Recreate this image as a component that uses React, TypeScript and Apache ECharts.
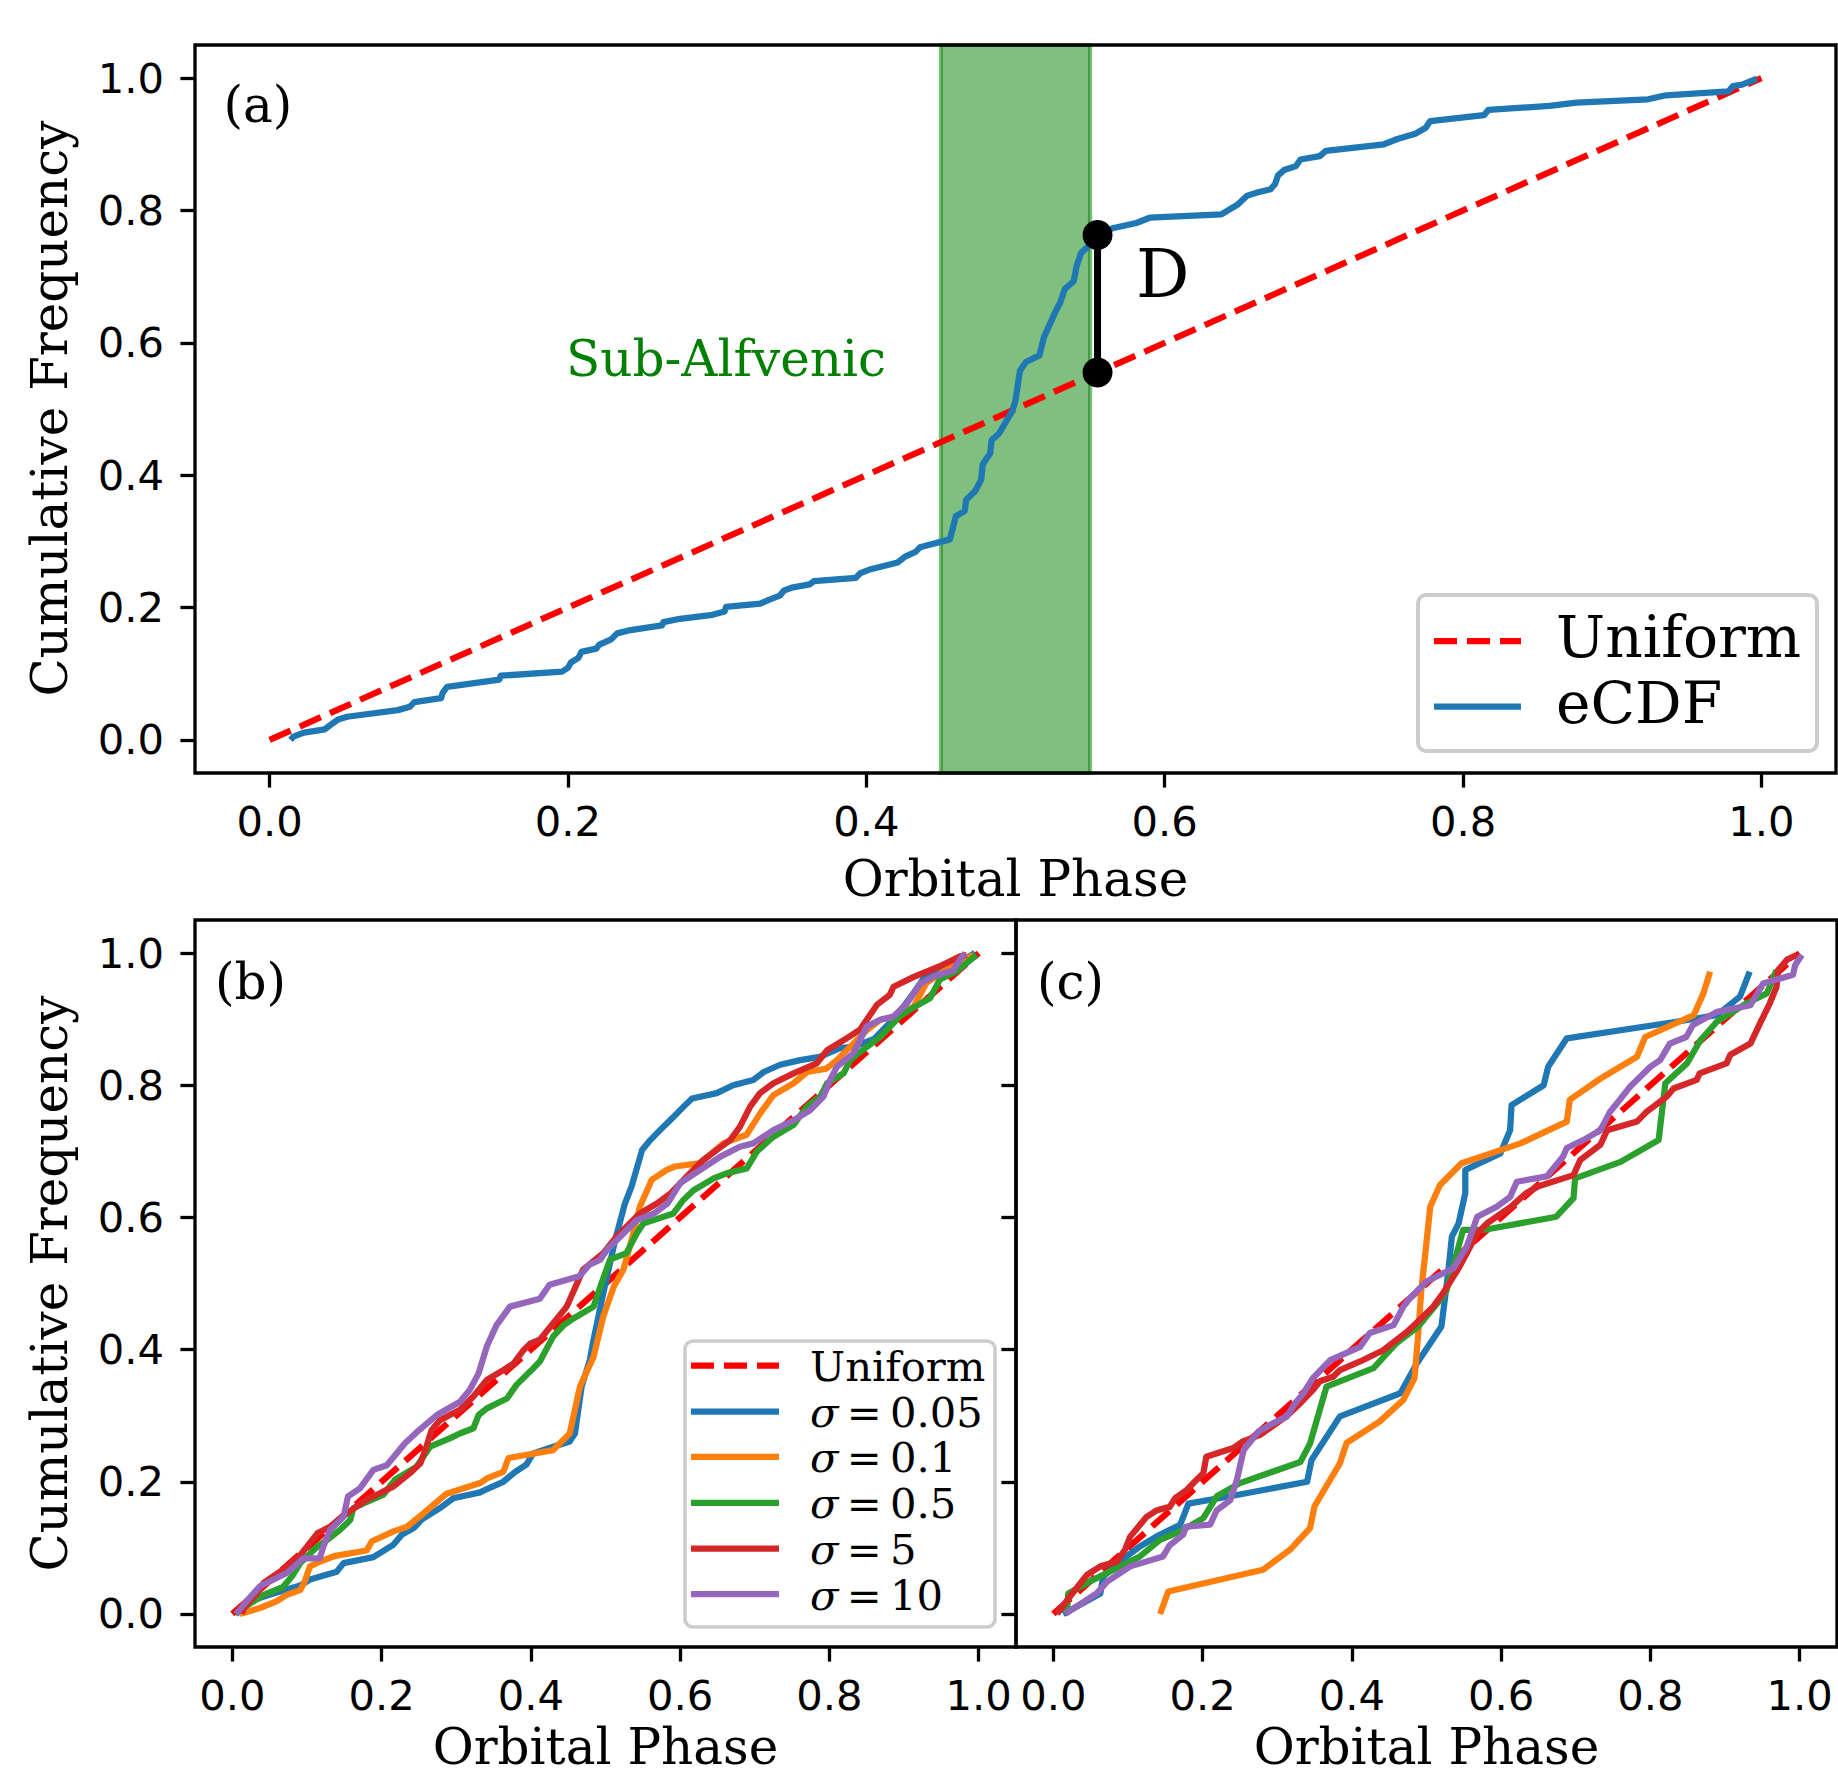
import React, { useEffect, useRef } from 'react';
import * as echarts from 'echarts';

const W = 1838;
const H = 1778;

// ---------- data ----------
const tickValues = [0, 0.2, 0.4, 0.6, 0.8, 1.0];
const axisMin = -0.05;
const axisMax = 1.05;

const uniformLine: [number, number][] = [[0, 0], [1, 1]];
const subAlfvenicBand = [0.45, 0.55];
const dX = 0.555;
const dLow = 0.555;
const dHigh = 0.763;

const ecdfA: [number, number][] = [
  [0.014, 0.0], [0.016, 0.005], [0.023, 0.011], [0.037, 0.016], [0.041, 0.023], [0.046, 0.031], [0.052, 0.035],
  [0.086, 0.045], [0.094, 0.050], [0.097, 0.057], [0.115, 0.063], [0.116, 0.071], [0.119, 0.080], [0.154, 0.091],
  [0.155, 0.097], [0.196, 0.103], [0.200, 0.109], [0.202, 0.117], [0.207, 0.124], [0.209, 0.133], [0.219, 0.138],
  [0.221, 0.144], [0.229, 0.152], [0.233, 0.161], [0.242, 0.166], [0.263, 0.173], [0.264, 0.178], [0.275, 0.183],
  [0.297, 0.189], [0.305, 0.194], [0.306, 0.201], [0.329, 0.206], [0.335, 0.212], [0.342, 0.218], [0.345, 0.226],
  [0.350, 0.230], [0.362, 0.235], [0.365, 0.240], [0.393, 0.245], [0.396, 0.252], [0.403, 0.258], [0.421, 0.268],
  [0.426, 0.277], [0.433, 0.284], [0.436, 0.291], [0.456, 0.303], [0.458, 0.320], [0.460, 0.338], [0.466, 0.346],
  [0.467, 0.363], [0.473, 0.376], [0.477, 0.393], [0.478, 0.416], [0.483, 0.433], [0.484, 0.453], [0.489, 0.463],
  [0.498, 0.498], [0.500, 0.513], [0.503, 0.558], [0.507, 0.571], [0.516, 0.581], [0.519, 0.608], [0.522, 0.623],
  [0.527, 0.648], [0.530, 0.661], [0.533, 0.681], [0.539, 0.693], [0.541, 0.716], [0.544, 0.736], [0.549, 0.746],
  [0.555, 0.763], [0.565, 0.773], [0.581, 0.781], [0.590, 0.789], [0.638, 0.794], [0.643, 0.801], [0.649, 0.809],
  [0.655, 0.822], [0.662, 0.827], [0.671, 0.832], [0.674, 0.840], [0.676, 0.853], [0.680, 0.861], [0.688, 0.867],
  [0.691, 0.877], [0.704, 0.882], [0.708, 0.890], [0.747, 0.900], [0.756, 0.908], [0.768, 0.916], [0.775, 0.925],
  [0.778, 0.935], [0.814, 0.944], [0.817, 0.952], [0.858, 0.958], [0.876, 0.963], [0.924, 0.968], [0.936, 0.974],
  [0.978, 0.980], [0.981, 0.988], [0.987, 0.990], [0.997, 0.999],
];

const sigmaLabels = ['0.05', '0.1', '0.5', '5', '10'];
const sigmaColors = ['#1f77b4', '#ff7f0e', '#2ca02c', '#d62728', '#9467bd'];

// panel (b)
const bSigma005: [number, number][] = [
  [0.005, 0.0], [0.028, 0.021], [0.055, 0.031], [0.091, 0.043], [0.104, 0.052], [0.140, 0.064], [0.149, 0.077],
  [0.189, 0.086], [0.202, 0.095], [0.216, 0.105], [0.227, 0.120], [0.243, 0.130], [0.254, 0.143], [0.278, 0.160],
  [0.296, 0.175], [0.332, 0.184], [0.341, 0.189], [0.363, 0.200], [0.379, 0.215], [0.394, 0.226], [0.403, 0.243],
  [0.430, 0.253], [0.452, 0.261], [0.459, 0.273], [0.468, 0.344], [0.479, 0.384], [0.484, 0.415], [0.497, 0.485],
  [0.513, 0.566], [0.526, 0.621], [0.535, 0.647], [0.549, 0.702], [0.560, 0.717], [0.573, 0.732], [0.591, 0.752],
  [0.605, 0.768], [0.616, 0.780], [0.649, 0.788], [0.671, 0.800], [0.698, 0.808], [0.712, 0.820], [0.734, 0.831],
  [0.761, 0.838], [0.787, 0.843], [0.814, 0.856], [0.832, 0.858], [0.860, 0.870], [0.890, 0.905], [0.910, 0.935],
  [0.930, 0.968], [0.955, 0.975], [0.980, 0.990], [0.995, 1.0],
];
const bSigma01: [number, number][] = [
  [0.010, 0.0], [0.037, 0.009], [0.059, 0.019], [0.073, 0.029], [0.091, 0.036], [0.097, 0.049], [0.104, 0.072],
  [0.117, 0.079], [0.138, 0.088], [0.180, 0.096], [0.187, 0.110], [0.216, 0.125], [0.234, 0.132], [0.256, 0.152],
  [0.287, 0.182], [0.332, 0.198], [0.341, 0.205], [0.363, 0.215], [0.370, 0.236], [0.430, 0.248], [0.452, 0.273],
  [0.457, 0.299], [0.466, 0.345], [0.484, 0.389], [0.497, 0.450], [0.511, 0.495], [0.524, 0.521], [0.535, 0.566],
  [0.546, 0.616], [0.562, 0.657], [0.582, 0.672], [0.593, 0.677], [0.627, 0.682], [0.658, 0.712], [0.689, 0.725],
  [0.707, 0.757], [0.725, 0.785], [0.752, 0.803], [0.770, 0.820], [0.796, 0.825], [0.810, 0.838], [0.832, 0.863],
  [0.850, 0.883], [0.868, 0.899], [0.890, 0.904], [0.913, 0.919], [0.930, 0.955], [0.957, 0.975], [0.984, 0.992],
  [0.993, 0.997],
];
const bSigma05: [number, number][] = [
  [0.004, 0.0], [0.024, 0.016], [0.042, 0.029], [0.068, 0.041], [0.080, 0.057], [0.091, 0.077], [0.114, 0.102],
  [0.127, 0.112], [0.144, 0.127], [0.158, 0.142], [0.162, 0.160], [0.175, 0.167], [0.202, 0.180], [0.218, 0.203],
  [0.247, 0.223], [0.265, 0.253], [0.292, 0.266], [0.305, 0.273], [0.323, 0.281], [0.330, 0.301], [0.341, 0.311],
  [0.368, 0.326], [0.381, 0.347], [0.401, 0.369], [0.412, 0.382], [0.430, 0.420], [0.444, 0.437], [0.457, 0.447],
  [0.484, 0.465], [0.493, 0.495], [0.506, 0.536], [0.528, 0.546], [0.542, 0.576], [0.551, 0.591], [0.591, 0.606],
  [0.604, 0.626], [0.618, 0.641], [0.645, 0.659], [0.663, 0.667], [0.689, 0.674], [0.703, 0.700], [0.725, 0.722],
  [0.752, 0.740], [0.770, 0.768], [0.788, 0.783], [0.797, 0.803], [0.819, 0.818], [0.828, 0.838], [0.850, 0.858],
  [0.868, 0.873], [0.894, 0.904], [0.912, 0.917], [0.935, 0.932], [0.948, 0.960], [0.970, 0.972], [0.997, 0.997],
];
const bSigma5: [number, number][] = [
  [0.013, 0.0], [0.015, 0.009], [0.033, 0.031], [0.042, 0.047], [0.068, 0.067], [0.091, 0.089], [0.114, 0.122],
  [0.131, 0.132], [0.153, 0.152], [0.180, 0.173], [0.193, 0.180], [0.216, 0.193], [0.238, 0.213], [0.252, 0.228],
  [0.260, 0.253], [0.267, 0.278], [0.278, 0.293], [0.305, 0.309], [0.323, 0.329], [0.341, 0.354], [0.363, 0.369],
  [0.377, 0.379], [0.390, 0.399], [0.399, 0.409], [0.412, 0.415], [0.430, 0.440], [0.448, 0.465], [0.452, 0.475],
  [0.470, 0.521], [0.497, 0.546], [0.515, 0.571], [0.546, 0.606], [0.569, 0.621], [0.587, 0.636], [0.609, 0.662],
  [0.631, 0.687], [0.649, 0.702], [0.667, 0.717], [0.680, 0.737], [0.694, 0.768], [0.707, 0.788], [0.725, 0.803],
  [0.752, 0.818], [0.783, 0.833], [0.797, 0.853], [0.823, 0.871], [0.841, 0.884], [0.850, 0.899], [0.864, 0.922],
  [0.881, 0.937], [0.886, 0.949], [0.913, 0.964], [0.948, 0.980], [0.975, 0.995], [0.984, 0.997],
];
const bSigma10: [number, number][] = [
  [0.005, 0.0], [0.019, 0.019], [0.037, 0.042], [0.073, 0.062], [0.095, 0.084], [0.117, 0.084], [0.122, 0.102],
  [0.131, 0.127], [0.149, 0.147], [0.155, 0.178], [0.171, 0.190], [0.189, 0.218], [0.207, 0.225], [0.231, 0.258],
  [0.251, 0.279], [0.274, 0.301], [0.305, 0.321], [0.318, 0.339], [0.330, 0.364], [0.341, 0.405], [0.354, 0.437],
  [0.372, 0.465], [0.412, 0.477], [0.425, 0.498], [0.465, 0.511], [0.478, 0.528], [0.493, 0.536], [0.502, 0.551],
  [0.520, 0.571], [0.542, 0.596], [0.565, 0.606], [0.583, 0.621], [0.600, 0.652], [0.627, 0.672], [0.654, 0.692],
  [0.680, 0.707], [0.698, 0.712], [0.725, 0.732], [0.752, 0.747], [0.774, 0.762], [0.792, 0.783], [0.801, 0.808],
  [0.810, 0.828], [0.832, 0.848], [0.841, 0.868], [0.850, 0.889], [0.868, 0.899], [0.886, 0.904], [0.904, 0.924],
  [0.922, 0.954], [0.939, 0.964], [0.966, 0.974], [0.975, 0.990], [0.982, 1.0],
];

// panel (c)
const cSigma005: [number, number][] = [
  [0.013, 0.0], [0.031, 0.011], [0.063, 0.031], [0.067, 0.057], [0.098, 0.087], [0.116, 0.102], [0.138, 0.117],
  [0.170, 0.135], [0.181, 0.167], [0.246, 0.180], [0.340, 0.200], [0.346, 0.233], [0.384, 0.299], [0.465, 0.334],
  [0.487, 0.379], [0.520, 0.435], [0.529, 0.516], [0.534, 0.571], [0.543, 0.591], [0.552, 0.637], [0.552, 0.672],
  [0.599, 0.697], [0.612, 0.732], [0.614, 0.770], [0.657, 0.800], [0.663, 0.828], [0.688, 0.871], [0.835, 0.896],
  [0.889, 0.906], [0.920, 0.934], [0.927, 0.954], [0.933, 0.972],
];
const cSigma01: [number, number][] = [
  [0.143, 0.0], [0.154, 0.034], [0.281, 0.067], [0.317, 0.097], [0.344, 0.130], [0.350, 0.163], [0.384, 0.228],
  [0.393, 0.259], [0.437, 0.291], [0.469, 0.324], [0.484, 0.357], [0.489, 0.425], [0.493, 0.490], [0.498, 0.541],
  [0.505, 0.616], [0.518, 0.649], [0.547, 0.682], [0.626, 0.712], [0.688, 0.745], [0.692, 0.778], [0.733, 0.810],
  [0.782, 0.843], [0.793, 0.873], [0.858, 0.906], [0.871, 0.939], [0.880, 0.972],
];
const cSigma05: [number, number][] = [
  [0.018, 0.0], [0.020, 0.031], [0.054, 0.052], [0.116, 0.087], [0.143, 0.112], [0.170, 0.125], [0.201, 0.145],
  [0.219, 0.178], [0.250, 0.198], [0.331, 0.230], [0.344, 0.258], [0.366, 0.344], [0.429, 0.372], [0.460, 0.410],
  [0.489, 0.435], [0.518, 0.475], [0.527, 0.490], [0.549, 0.581], [0.576, 0.581], [0.674, 0.601], [0.697, 0.629],
  [0.699, 0.659], [0.760, 0.684], [0.811, 0.717], [0.820, 0.803], [0.849, 0.833], [0.867, 0.868], [0.889, 0.896],
  [0.929, 0.924], [0.956, 0.939], [0.969, 0.974],
];
const cSigma5: [number, number][] = [
  [0.005, 0.0], [0.022, 0.026], [0.036, 0.046], [0.045, 0.059], [0.063, 0.072], [0.085, 0.079], [0.096, 0.097],
  [0.103, 0.117], [0.125, 0.147], [0.139, 0.157], [0.156, 0.162], [0.163, 0.175], [0.179, 0.188], [0.192, 0.203],
  [0.201, 0.213], [0.205, 0.238], [0.241, 0.251], [0.254, 0.261], [0.277, 0.271], [0.312, 0.299], [0.331, 0.319],
  [0.348, 0.339], [0.357, 0.352], [0.375, 0.359], [0.384, 0.369], [0.411, 0.382], [0.442, 0.399], [0.474, 0.427],
  [0.491, 0.445], [0.509, 0.465], [0.522, 0.485], [0.543, 0.523], [0.554, 0.546], [0.568, 0.576], [0.581, 0.591],
  [0.613, 0.616], [0.634, 0.637], [0.650, 0.647], [0.697, 0.664], [0.706, 0.687], [0.733, 0.710], [0.742, 0.732],
  [0.782, 0.745], [0.795, 0.760], [0.822, 0.783], [0.831, 0.795], [0.862, 0.808], [0.866, 0.818], [0.902, 0.833],
  [0.907, 0.846], [0.934, 0.863], [0.947, 0.894], [0.960, 0.924], [0.969, 0.949], [0.971, 0.974], [0.983, 0.990],
  [0.996, 0.997],
];
const cSigma10: [number, number][] = [
  [0.016, 0.0], [0.031, 0.011], [0.058, 0.031], [0.072, 0.049], [0.103, 0.072], [0.147, 0.087], [0.156, 0.104],
  [0.174, 0.120], [0.178, 0.132], [0.210, 0.135], [0.219, 0.157], [0.237, 0.172], [0.246, 0.203], [0.255, 0.248],
  [0.275, 0.276], [0.290, 0.286], [0.313, 0.299], [0.324, 0.319], [0.335, 0.334], [0.348, 0.357], [0.371, 0.384],
  [0.411, 0.404], [0.424, 0.425], [0.456, 0.437], [0.469, 0.465], [0.478, 0.478], [0.500, 0.503], [0.536, 0.523],
  [0.554, 0.556], [0.568, 0.601], [0.594, 0.616], [0.612, 0.631], [0.621, 0.654], [0.661, 0.662], [0.683, 0.692],
  [0.688, 0.705], [0.710, 0.717], [0.733, 0.732], [0.746, 0.760], [0.759, 0.778], [0.773, 0.798], [0.800, 0.828],
  [0.813, 0.838], [0.826, 0.863], [0.848, 0.873], [0.857, 0.891], [0.889, 0.911], [0.934, 0.921], [0.951, 0.954],
  [0.991, 0.967], [0.994, 0.982], [1.003, 0.997],
];

const panelB = [bSigma005, bSigma01, bSigma05, bSigma5, bSigma10];
const panelC = [cSigma005, cSigma01, cSigma05, cSigma5, cSigma10];

// ---------- layout / style ----------
const SERIF = '"DejaVu Serif", "Liberation Serif", serif';
const SANS = '"DejaVu Sans", "Liberation Sans", sans-serif';
const SPINE = 3.3;
const LW = 6.25;
const DASH_LW = 6.25;
const DASH = [23, 10];
const UNIFORM_RED = '#ff0000';

const grids = [
  { left: 195, top: 45, width: 1641, height: 728 },
  { left: 195, top: 920, width: 821, height: 727 },
  { left: 1016, top: 920, width: 821, height: 727 },
];

function makeXAxis(i: number) {
  return {
    type: 'value', gridIndex: i, min: axisMin, max: axisMax, position: 'bottom',
    axisLine: { show: false, onZero: false }, splitLine: { show: false },
    axisTick: { show: true, customValues: tickValues, length: 14.6, lineStyle: { color: '#000', width: SPINE } },
    axisLabel: {
      show: true, customValues: tickValues, formatter: (v: number) => v.toFixed(1),
      fontFamily: SANS, fontSize: 41.7, color: '#000', margin: 27,
    },
  };
}
function makeYAxis(i: number, labels: boolean) {
  return {
    type: 'value', gridIndex: i, min: axisMin, max: axisMax, position: 'left',
    axisLine: { show: false, onZero: false }, splitLine: { show: false },
    axisTick: { show: true, customValues: tickValues, length: 14.6, lineStyle: { color: '#000', width: SPINE } },
    axisLabel: {
      show: labels, customValues: tickValues, formatter: (v: number) => v.toFixed(1),
      fontFamily: SANS, fontSize: 41.7, color: '#000', margin: 31,
    },
  };
}

function lineSeries(idx: number, data: [number, number][], color: string, z: number, dashed = false, extra: any = {}) {
  return {
    type: 'line', xAxisIndex: idx, yAxisIndex: idx, data, showSymbol: false, symbol: 'none',
    silent: true, z, clip: true,
    lineStyle: dashed
      ? { color, width: DASH_LW, type: DASH, cap: 'butt' }
      : { color, width: LW, cap: 'butt', join: 'round' },
    ...extra,
  };
}

function legendLine(x1: number, x2: number, y: number, color: string, dashed: boolean) {
  return {
    type: 'line', z: 101, silent: true,
    shape: { x1, y1: y, x2, y2: y },
    style: dashed
      ? { stroke: color, lineWidth: DASH_LW, lineDash: DASH }
      : { stroke: color, lineWidth: LW },
  };
}
function txt(x: number, y: number, text: string, fontSize: number, family: string, extra: any = {}, el: any = {}) {
  return {
    type: 'text', x, y, z: 101, silent: true, ...el,
    style: { text, fontSize, fontFamily: family, fill: '#000', align: 'left', verticalAlign: 'middle', ...extra },
  };
}

function buildOption() {
  const series: any[] = [];
  // panel a
  series.push(lineSeries(0, uniformLine, UNIFORM_RED, 2, true, {
    markArea: {
      silent: true, z: 1,
      label: { show: false },
      itemStyle: { color: 'rgba(0,128,0,0.5)', borderColor: 'rgba(0,128,0,0.5)', borderWidth: 4.2 },
      data: [[{ xAxis: subAlfvenicBand[0], yAxis: axisMin }, { xAxis: subAlfvenicBand[1], yAxis: axisMax }]],
    },
  }));
  series.push(lineSeries(0, ecdfA, '#1f77b4', 3));
  series.push({
    type: 'line', xAxisIndex: 0, yAxisIndex: 0, silent: true, z: 5,
    data: [[dX, dLow], [dX, dHigh]],
    symbol: 'circle', symbolSize: 30, showSymbol: true,
    itemStyle: { color: '#000' }, lineStyle: { color: '#000', width: 7 },
  });
  // panels b, c
  [panelB, panelC].forEach((panel, p) => {
    const idx = p + 1;
    series.push(lineSeries(idx, uniformLine, UNIFORM_RED, 2, true));
    panel.forEach((d, k) => series.push(lineSeries(idx, d, sigmaColors[k], 3 + k)));
  });

  const graphic: any[] = [];
  // spines
  grids.forEach((g) => graphic.push({
    type: 'rect', z: 100, silent: true,
    shape: { x: g.left, y: g.top, width: g.width, height: g.height },
    style: { fill: 'none', stroke: '#000', lineWidth: SPINE },
  }));
  // axis titles
  graphic.push(txt(50, 408.5, 'Cumulative Frequency', 50, SERIF, { align: 'center' }, { rotation: Math.PI / 2 }));
  graphic.push(txt(50, 1283.5, 'Cumulative Frequency', 50, SERIF, { align: 'center' }, { rotation: Math.PI / 2 }));
  graphic.push(txt(1015.5, 879, 'Orbital Phase', 50, SERIF, { align: 'center' }));
  graphic.push(txt(605.5, 1747, 'Orbital Phase', 50, SERIF, { align: 'center' }));
  graphic.push(txt(1426.5, 1747, 'Orbital Phase', 50, SERIF, { align: 'center' }));
  // panel letters
  graphic.push(txt(223.5, 105, '(a)', 50, SERIF));
  graphic.push(txt(215, 982, '(b)', 50, SERIF));
  graphic.push(txt(1037, 982, '(c)', 50, SERIF));
  // annotations
  graphic.push(txt(566, 358.7, 'Sub-Alfvenic', 50, SERIF, { fill: '#008000' }));
  graphic.push(txt(1136, 274, 'D', 66.7, SERIF));

  // legend a
  graphic.push({
    type: 'rect', z: 100, silent: true,
    shape: { x: 1418, y: 595, width: 399, height: 156, r: 8 },
    style: { fill: 'rgba(255,255,255,0.8)', stroke: '#cccccc', lineWidth: 4 },
  });
  graphic.push(legendLine(1434, 1521, 641, UNIFORM_RED, true));
  graphic.push(txt(1556, 637, 'Uniform', 58.3, SERIF));
  graphic.push(legendLine(1434, 1521, 706.6, '#1f77b4', false));
  graphic.push(txt(1556, 702.5, 'eCDF', 58.3, SERIF));

  // legend b
  graphic.push({
    type: 'rect', z: 100, silent: true,
    shape: { x: 685, y: 1341, width: 310, height: 286, r: 8 },
    style: { fill: 'rgba(255,255,255,0.8)', stroke: '#cccccc', lineWidth: 3.5 },
  });
  const ly = [1365.7, 1411.6, 1456.9, 1502.8, 1548.6, 1594];
  graphic.push(legendLine(691, 779, ly[0], UNIFORM_RED, true));
  graphic.push(txt(810, ly[0] + 1, 'Uniform', 41.7, SERIF));
  sigmaLabels.forEach((s, k) => {
    graphic.push(legendLine(691, 779, ly[k + 1], sigmaColors[k], false));
    graphic.push(txt(810, ly[k + 1] + 1, `{i|σ}\u2009=\u2009${s}`, 41.7, SERIF, {
      rich: { i: { fontStyle: 'italic', fontSize: 41.7, fontFamily: SERIF, fill: '#000' } },
    }));
  });

  return {
    animation: false,
    backgroundColor: '#ffffff',
    grid: grids.map((g) => ({ ...g, show: false, containLabel: false })),
    xAxis: [makeXAxis(0), makeXAxis(1), makeXAxis(2)],
    yAxis: [makeYAxis(0, true), makeYAxis(1, true), makeYAxis(2, false)],
    series,
    graphic,
  };
}

export default function App() {
  const ref = useRef<HTMLDivElement>(null);
  useEffect(() => {
    document.body.style.margin = '0';
    const chart = echarts.init(ref.current!, null, { renderer: 'svg' });
    chart.setOption(buildOption() as any);
    return () => chart.dispose();
  }, []);
  return <div ref={ref} style={{ width: W, height: H }} />;
}
